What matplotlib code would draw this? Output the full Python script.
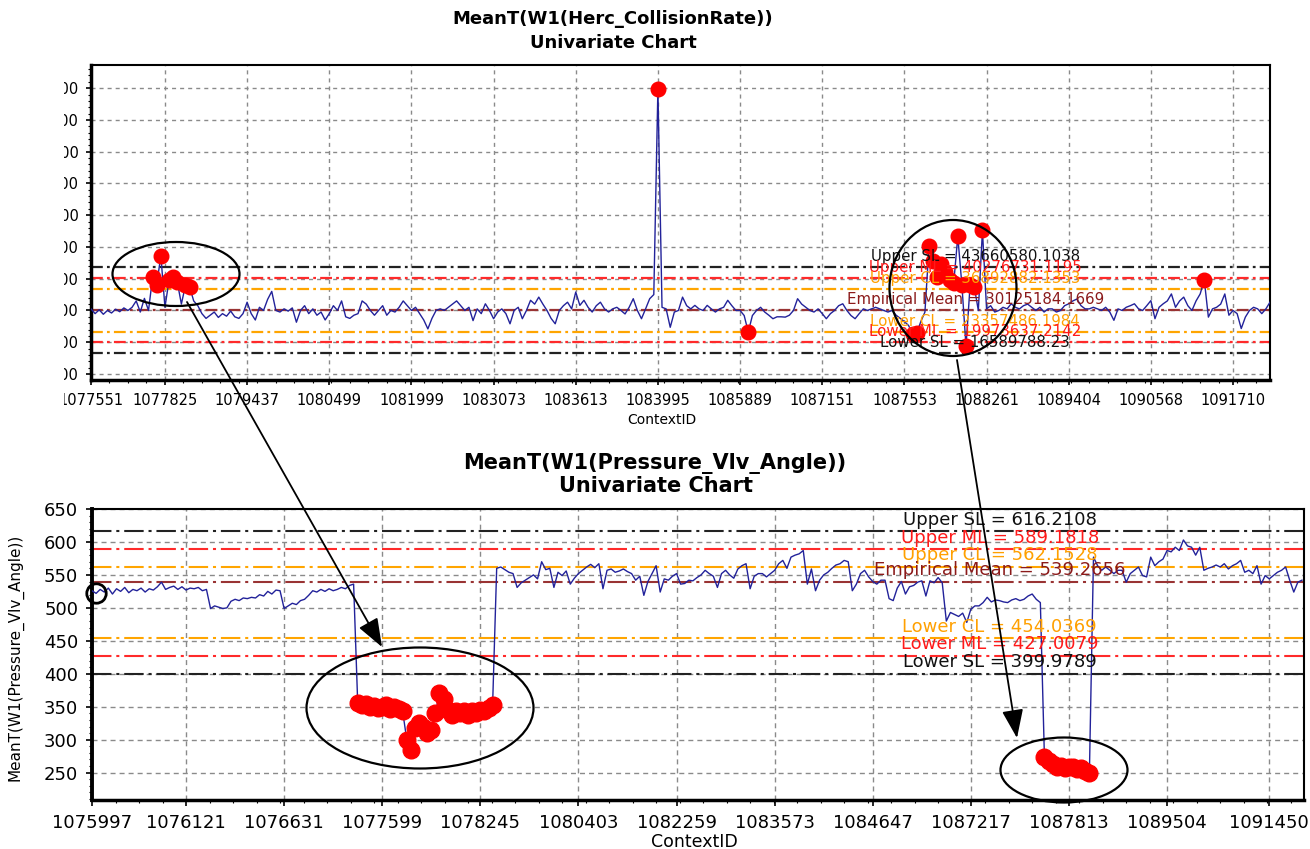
import matplotlib
matplotlib.use('Agg')
import matplotlib.pyplot as plt
import numpy as np
from matplotlib.patches import Ellipse, FancyArrowPatch
from matplotlib.ticker import FixedLocator, AutoMinorLocator, FuncFormatter, MultipleLocator
from matplotlib.transforms import Bbox, TransformedBbox

plt.rcParams['font.family'] = ['DejaVu Sans']
plt.rcParams['lines.scale_dashes'] = False

# ---------------- data: top chart (Herc_CollisionRate, values in millions) ----------------
top_title = "MeanT(W1(Herc_CollisionRate))"
top_values_m = [
    30.5, 29.0, 30.2, 28.8, 30.0, 29.2, 30.4, 29.6, 30.8, 30.0, 31.0, 33.0, 29.5, 33.8,
    30.0, 40.5, 38.0, 47.3, 31.0, 39.5, 40.5, 39.0, 32.0, 38.0, 37.5, 33.0, 31.5, 29.0, 27.5,
    28.5, 29.5, 27.8, 29.0, 28.2, 29.8, 28.0, 27.5, 29.0,
    32.6, 29.0, 27.0, 31.0, 30.0, 33.5, 36.0, 30.0, 29.5, 30.5,
    29.8, 30.8, 26.3, 30.0, 31.5, 29.0, 30.5, 28.5, 29.5, 27.0,
    29.0, 31.5, 30.0, 33.0, 28.0, 27.5, 28.5, 29.0, 33.0, 32.0,
    30.0, 28.5, 30.0, 31.5, 28.5, 30.0, 29.5, 31.0, 33.0, 31.5,
    30.0, 31.0, 29.0, 27.0, 24.2, 27.5, 30.0, 30.5, 30.0, 31.0,
    32.0, 33.0, 31.5, 30.0,
    31.0, 26.8, 30.5, 29.0, 32.1, 30.0, 27.4, 29.5, 30.5, 29.0,
    25.8, 30.0, 31.0, 27.4, 30.0, 33.2, 32.0, 34.2, 32.0, 30.0,
    27.5, 25.8, 30.0, 31.5, 32.6, 30.5, 35.8, 31.6, 33.2, 31.0,
    29.5, 31.5, 32.6, 30.5, 29.5, 30.5, 31.0, 30.0, 28.9, 31.0,
    33.7, 30.0, 27.4, 30.5, 33.7, 35.0, 99.8, 31.0, 30.5, 24.7,
    29.5, 30.0, 34.2, 31.5, 30.5, 31.6, 30.5, 30.0, 31.6, 30.5,
    29.5, 30.5, 31.0, 33.2, 31.5, 30.0, 30.0, 28.4, 23.2, 28.4,
    30.0, 31.0, 29.5, 28.5, 27.4, 28.0, 28.0, 27.9, 28.5, 30.0,
    33.7, 32.0, 31.0, 30.0, 29.5, 30.5, 29.0, 27.4, 29.0, 30.0,
    31.5, 32.1, 30.0, 28.4, 27.4, 29.0, 30.5, 30.0, 30.5, 31.0,
    30.5, 30.0, 29.5, 30.0, 28.5, 27.5, 26.5, 25.3,
    22.7, 22.9, 26.5, 29.5, 50.2, 45.5, 40.5, 44.5, 42.0, 39.5,
    38.5, 53.3, 38.0, 18.7, 38.0, 37.5, 30.0, 55.2, 30.5, 31.5,
    29.5,
    30.0, 31.0, 30.5, 32.1, 31.0, 30.5, 31.5, 32.0, 31.0, 30.0,
    31.0, 29.5, 30.5, 30.5, 29.5, 30.0, 31.5, 32.1, 33.0, 33.6,
    31.5, 30.5, 30.5, 31.0, 30.5, 30.0, 31.0, 29.5, 26.9, 30.5,
    30.0, 31.0, 31.5, 32.1, 30.5, 30.0, 31.5, 33.1, 27.4, 31.0,
    32.1, 33.0, 35.2, 31.0, 33.0, 34.2, 31.5, 30.0, 33.0, 35.2,
    39.6, 27.9, 30.5, 31.0, 32.0, 35.2, 28.5, 30.0, 29.0, 24.3,
    27.9, 30.0, 31.0, 30.5, 29.0, 30.5, 32.6,
]
top_tick_pos = [0, 18, 38, 58, 78, 98, 118, 138, 158, 178, 198, 218, 238, 258, 278]
top_tick_labels = ['1077551', '1077825', '1079437', '1080499', '1081999', '1083073',
                   '1083613', '1083995', '1085889', '1087151', '1087553', '1088261',
                   '1089404', '1090568', '1091710']
top_yticks = [10e6, 20e6, 30e6, 40e6, 50e6, 60e6, 70e6, 80e6, 90e6, 100e6]
top_limit_names = ['Upper SL', 'Upper ML', 'Upper CL', 'Empirical Mean',
                   'Lower CL', 'Lower ML', 'Lower SL']
top_limit_values = [43660580.1038, 40276731.1195, 36892882.1353, 30125184.1669,
                    23357486.1984, 19973637.2142, 16589788.23]

# ---------------- data: bottom chart (Pressure_Vlv_Angle) ----------------
bot_title = "MeanT(W1(Pressure_Vlv_Angle))"
bot_values = [
    526, 522, 528, 524, 530, 521, 529, 525, 531, 523, 528, 526, 530, 524, 529, 527, 532, 539,
    528, 531, 533, 528, 532, 527, 530, 529, 531, 526, 528,
    499, 503, 501, 499, 500, 510, 513, 511, 515, 514, 516, 515, 520, 518, 525, 521, 527, 526,
    499, 503, 507, 505, 511, 513, 519, 526, 524, 528, 525, 529, 526, 528, 531, 529, 534, 536,
    356, 352, 354, 349, 351, 348, 350, 352, 347, 349, 346, 343, 300, 285, 318, 326, 320, 310,
    314, 340, 371, 362, 345, 338, 344, 340, 343, 338, 344, 341, 345, 343, 348, 352,
    560,
    562, 558, 554, 552, 531, 538, 542, 546, 550, 544,
    570, 558, 560, 531, 554, 549, 556, 536, 545, 552,
    557, 562, 566, 561, 567, 529, 557, 559, 554, 556,
    559, 555, 552, 542, 548, 519, 540, 552, 564, 524,
    544, 542, 548, 552, 536, 537, 542, 541, 546, 550,
    557, 552, 548, 531, 552, 557, 550, 545, 559, 564,
    567, 529, 548, 552, 552, 547, 552, 557, 567, 572,
    560, 577, 580, 582, 587, 536, 559, 526, 542, 550,
    554, 560, 565, 567, 572, 570, 526, 536, 552, 557,
    547, 540, 536, 542, 542, 514, 511, 530,
    540, 521, 532, 534, 539, 541, 518, 541, 538, 546,
    538, 480, 493, 490, 487, 492, 478, 498, 503, 503,
    508, 516, 509, 512, 511, 509, 508, 512, 514, 511,
    513, 518, 521, 513, 508, 273, 268, 263, 258, 260,
    257, 258, 259, 256, 257, 252, 249, 577, 564, 557,
    562, 557, 552, 557, 557, 539, 552, 557, 562, 549,
    547, 577, 564, 570, 574, 587, 585, 592, 587, 603,
    594, 592, 580, 592, 557, 560, 562, 565, 562, 567,
    559, 564, 567, 572, 554, 557, 552, 564, 536, 549,
    544, 549, 554, 557, 562, 542, 524, 539, 542,
]
bot_tick_pos = [0, 23, 47, 71, 95, 119, 143, 167, 191, 215, 239, 263, 288]
bot_tick_labels = ['1075997', '1076121', '1076631', '1077599', '1078245', '1080403',
                   '1082259', '1083573', '1084647', '1087217', '1087813', '1089504', '1091450']
bot_yticks = [250, 300, 350, 400, 450, 500, 550, 600, 650]
bot_limit_names = top_limit_names
bot_limit_values = [616.2108, 589.1818, 562.1528, 539.2656, 454.0369, 427.0079, 399.9789]
bot_highlight_index = 1

# ---------------- styling ----------------
limit_line_colors = ['#222222', '#ff2a2a', '#ffa500', '#993333', '#ffa500', '#ff2a2a', '#222222']
limit_text_colors = ['#111111', '#ff1a1a', '#ffa000', '#8b1a1a', '#ffa000', '#ff1a1a', '#111111']
series_color = '#22229a'

W, H = 1310, 849
fig = plt.figure(figsize=(W / 100, H / 100), dpi=100)
fig.patch.set_facecolor('white')


def px_rect(l, t, r, b):
    return [l / W, 1 - b / H, (r - l) / W, (b - t) / H]


def fx(px):
    return px / W


def fy(py):
    return 1 - py / H


ax1 = fig.add_axes(px_rect(91, 65, 1270, 380))
ax2 = fig.add_axes(px_rect(92, 509, 1304, 800))

# ---------------- top chart ----------------
x1 = np.arange(len(top_values_m))
y1 = np.array(top_values_m) * 1e6
ax1.plot(x1, y1, color=series_color, lw=1.0, zorder=3)
flag1 = (y1 > top_limit_values[2]) | (y1 < top_limit_values[4])
ax1.plot(x1[flag1], y1[flag1], 'o', color='#ff0000', ms=10.5, mec='#ff0000', zorder=4)
for name, val, lc, tc in zip(top_limit_names, top_limit_values, limit_line_colors, limit_text_colors):
    ax1.axhline(val, color=lc, lw=1.6, ls=(0, (8.5, 3, 2, 3)), zorder=2)
    ax1.annotate(f"{name} = {val}", xy=(0.75, val), xycoords=ax1.get_yaxis_transform(),
                 xytext=(0, 7.5), textcoords='offset points', ha='center', va='center',
                 color=tc, fontsize=10.8, zorder=6)
ax1.set_xlim(0, len(top_values_m) - 1)
ax1.set_ylim(8.1e6, 107.3e6)
ax1.xaxis.set_major_locator(FixedLocator(top_tick_pos))
ax1.set_xticklabels(top_tick_labels)
ax1.yaxis.set_major_locator(FixedLocator(top_yticks))
ax1.yaxis.set_major_formatter(FuncFormatter(lambda v, p: f"{v:.0f}"))
ax1.xaxis.set_minor_locator(AutoMinorLocator(4))
ax1.yaxis.set_minor_locator(AutoMinorLocator(5))
ax1.grid(True, which='major', color='#8a8a8a', ls=(0, (2.9, 2.9)), lw=1.0)
ax1.tick_params(which='major', direction='out', length=3.5, width=1.2, pad=5.5, labelsize=10.5)
ax1.tick_params(which='minor', direction='out', length=2, width=0.8)
ax1.set_xlabel('ContextID', fontsize=10)
ax1.xaxis.set_label_coords(0.484, -0.105)
for side, lw in (('left', 2.5), ('bottom', 2.5), ('top', 1.5), ('right', 1.5)):
    ax1.spines[side].set_linewidth(lw)
    ax1.spines[side].set_color('black')

fig.text(fx(613), fy(19), top_title, ha='center', va='center', fontsize=13, fontweight='bold')
fig.text(fx(613), fy(42.5), 'Univariate Chart', ha='center', va='center', fontsize=13, fontweight='bold')

# ---------------- bottom chart ----------------
x2 = np.arange(len(bot_values))
y2 = np.array(bot_values, dtype=float)
ax2.plot(x2, y2, color=series_color, lw=1.0, zorder=3)
flag2 = (y2 > bot_limit_values[0]) | (y2 < bot_limit_values[6])
ax2.plot(x2[flag2], y2[flag2], 'o', color='#ff0000', ms=12, mec='#ff0000', zorder=4)
ax2.plot(x2[bot_highlight_index], y2[bot_highlight_index], 'o', mfc='none', mec='black',
         ms=14, mew=2, clip_on=False, zorder=5)
for name, val, lc, tc in zip(bot_limit_names, bot_limit_values, limit_line_colors, limit_text_colors):
    ax2.axhline(val, color=lc, lw=1.5, ls=(0, (14, 3.5, 2.2, 3.5)), zorder=2)
    ax2.annotate(f"{name} = {val}", xy=(0.749, val), xycoords=ax2.get_yaxis_transform(),
                 xytext=(0, 8.3), textcoords='offset points', ha='center', va='center',
                 color=tc, fontsize=13, zorder=6)
ax2.set_xlim(0, 296.5)
ax2.set_ylim(208.5, 650)
ax2.xaxis.set_major_locator(FixedLocator(bot_tick_pos))
ax2.set_xticklabels(bot_tick_labels)
ax2.yaxis.set_major_locator(FixedLocator(bot_yticks))
ax2.xaxis.set_minor_locator(AutoMinorLocator(4))
ax2.yaxis.set_minor_locator(MultipleLocator(10))
ax2.grid(True, which='major', color='#8a8a8a', ls=(0, (3.6, 2.9)), lw=1.0)
ax2.tick_params(which='major', direction='out', length=4, width=1.2, pad=6, labelsize=13)
ax2.tick_params(which='minor', direction='out', length=2.5, width=0.8)
ax2.set_xlabel('ContextID', fontsize=12.5)
ax2.xaxis.set_label_coords(0.497, -0.112)
ax2.set_ylabel('MeanT(W1(Pressure_Vlv_Angle))', fontsize=11)
ax2.yaxis.set_label_coords((24 - 92) / 1212, 0.49)
for side, lw in (('left', 2.8), ('bottom', 2.5), ('top', 1.5), ('right', 1.5)):
    ax2.spines[side].set_linewidth(lw)
    ax2.spines[side].set_color('black')

fig.text(fx(655), fy(463), bot_title, ha='center', va='center', fontsize=15, fontweight='bold')
fig.text(fx(656), fy(486), 'Univariate Chart', ha='center', va='center', fontsize=15, fontweight='bold')

# ---------------- annotation overlay: ellipses and arrows (pixel geometry) ----------------
ellipses_px = [(176, 274, 127, 64), (953, 288, 127, 136), (420, 708, 227, 121), (1064, 770, 127, 65)]
for cx, cy, w, h in ellipses_px:
    e = Ellipse((fx(cx), fy(cy)), w / W, h / H, transform=fig.transFigure,
                fill=False, edgecolor='black', lw=1.6, zorder=20)
    fig.add_artist(e)
arrows_px = [((187, 302), (382, 647)), ((957, 360), (1017, 738))]
for (x0, y0), (x1a, y1a) in arrows_px:
    a = FancyArrowPatch((fx(x0), fy(y0)), (fx(x1a), fy(y1a)), transform=fig.transFigure,
                        arrowstyle='-|>,head_length=0.8,head_width=0.3', mutation_scale=22,
                        lw=1.3, color='black', shrinkA=0, shrinkB=0, zorder=21)
    fig.add_artist(a)

# the top chart is a cropped screenshot: clip its labels at the crop edge
clip_bb = TransformedBbox(Bbox([[64 / W, 0.5], [1.0, 1.0]]), fig.transFigure)
fig.canvas.draw()
for t in ax1.get_yticklabels() + ax1.get_xticklabels():
    t.set_clip_box(clip_bb)
    t.set_clip_on(True)

fig.savefig('out.png', dpi=100, facecolor='white')
